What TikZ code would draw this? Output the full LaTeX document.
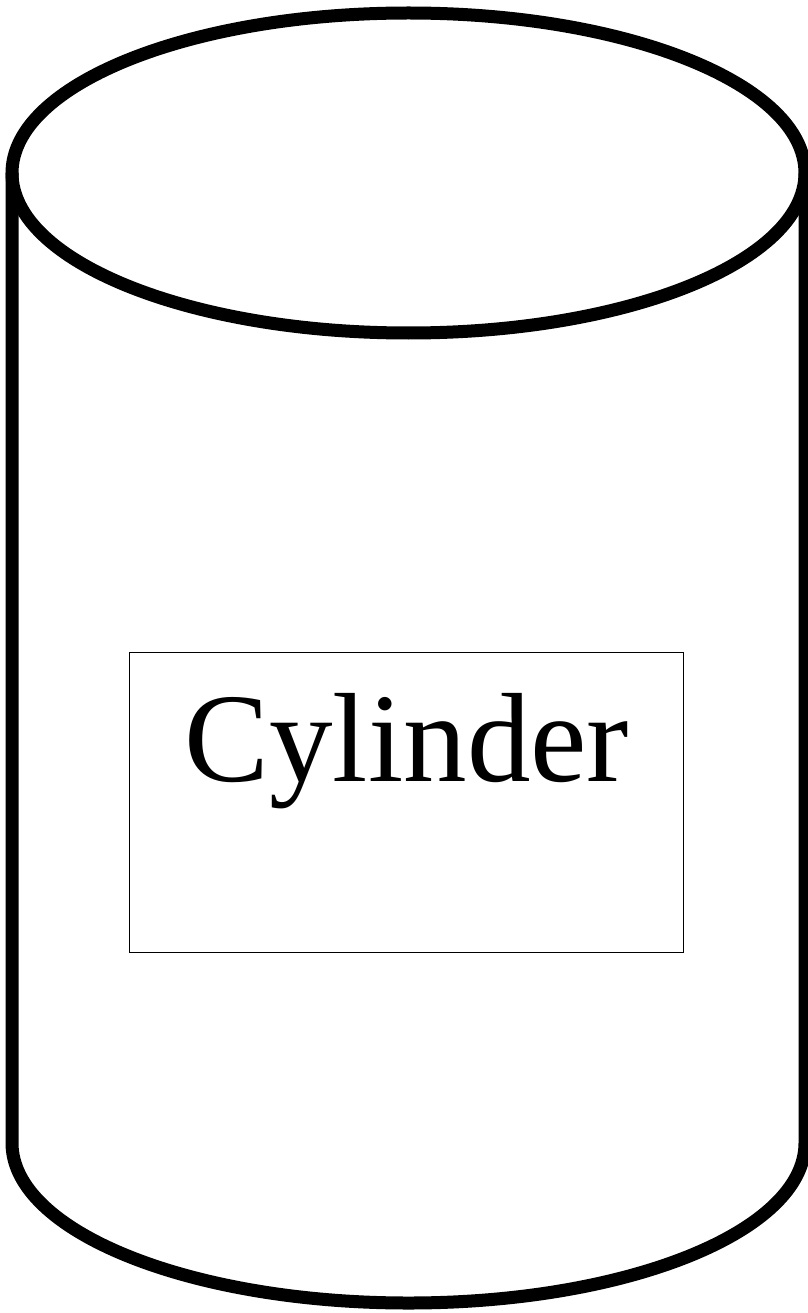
\documentclass[tikz,border=0pt]{standalone}
\usepackage{fontspec}
\setmainfont{Liberation Serif}
\begin{document}
\begin{tikzpicture}[x=1pt,y=-1pt,
  cyl/.style={line width=13pt, draw=black},
  boxstyle/.style={draw=black, line width=1.5pt, inner sep=0pt, minimum width=554pt, minimum height=300pt},
  lbl/.style={font=\fontsize{127}{130}\selectfont, inner sep=0pt}]
\useasboundingbox (0,0) rectangle (807,1313);
% body
\draw[cyl, line join=round] (12,173) -- (12,1143) arc[start angle=180, end angle=0, x radius=396.5, y radius=160] -- (805,173);
% top ellipse
\draw[cyl] (408.5,173) ellipse[x radius=396.5, y radius=160];
% text box
\node[boxstyle] (box) at (406.5,802.5) {};
\node[lbl, anchor=base] (label) at (407,781) {Cylinder};
\end{tikzpicture}
\end{document}
